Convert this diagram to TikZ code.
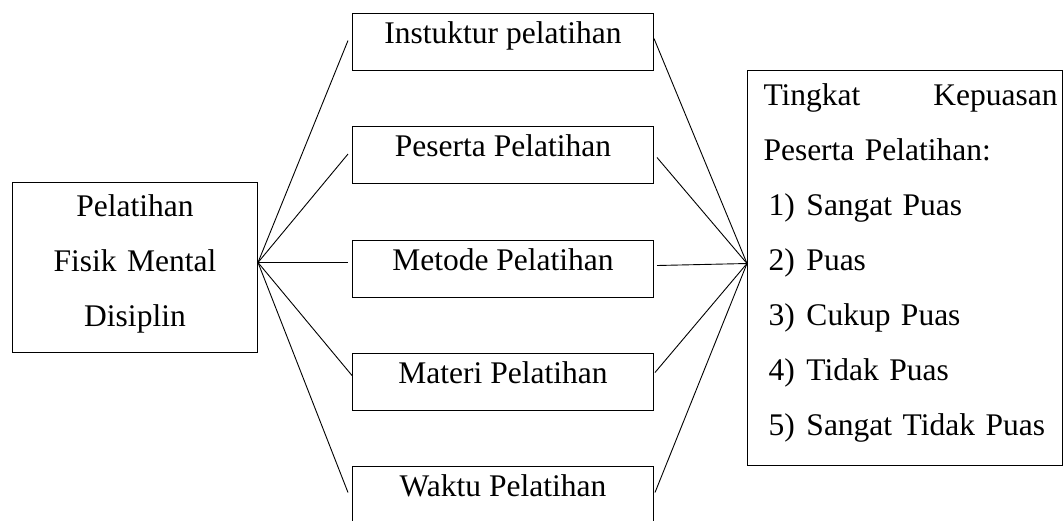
\documentclass[tikz,border=0pt]{standalone}
\usepackage{fontspec}
\setmainfont{Liberation Serif}
\begin{document}
\begin{tikzpicture}[x=1pt,y=-1pt,
  txt/.style={font=\fontsize{31.5}{55}\selectfont},
  box/.style={draw, line width=1pt, inner sep=0pt, txt},
  mbox/.style={box, anchor=north west, minimum width=301pt, text height=30pt, text depth=27pt},
  conn/.style={line width=0.9pt}]
\useasboundingbox (0,0) rectangle (1063,520);
% left box
\node[box, anchor=north west, text width=245pt, align=center] (lb) at (12,182)
  {\rule{0pt}{34pt}Pelatihan\\Fisik Mental\\Disiplin\rule[-26pt]{0pt}{0pt}};
% middle boxes
\node[mbox] (m1) at (352,13)  {Instuktur pelatihan};
\node[mbox] (m2) at (352,126) {Peserta Pelatihan};
\node[mbox] (m3) at (352,239.5) {Metode Pelatihan};
\node[mbox] (m4) at (352,353) {Materi Pelatihan};
\node[mbox] (m5) at (352,466) {Waktu Pelatihan};
% right box
\node[box, anchor=north west, text width=315pt, align=left] (rb) at (747,70)
  {\rule{0pt}{35pt}\hspace*{16pt}\makebox[294pt][l]{Tingkat\hfill Kepuasan}\\
   \hspace*{16pt}Peserta Pelatihan:\\
   \hspace*{21pt}\makebox[38pt][l]{1)}Sangat Puas\\
   \hspace*{21pt}\makebox[38pt][l]{2)}Puas\\
   \hspace*{21pt}\makebox[38pt][l]{3)}Cukup Puas\\
   \hspace*{21pt}\makebox[38pt][l]{4)}Tidak Puas\\
   \hspace*{21pt}\makebox[38pt][l]{5)}Sangat Tidak Puas\rule[-30pt]{0pt}{0pt}};
% connectors left
\draw[conn] ([yshift=5pt]lb.east) -- ([xshift=-4pt,yshift=1.5pt]m1.west);
\draw[conn] ([yshift=5pt]lb.east) -- ([xshift=-4pt,yshift=1pt]m2.west);
\draw[conn] ([yshift=5pt]lb.east) -- ([xshift=-4pt,yshift=6pt]m3.west);
\draw[conn] ([yshift=5pt]lb.east) -- ([yshift=6.5pt]m4.west);
\draw[conn] ([yshift=5pt]lb.east) -- ([xshift=-4pt,yshift=2.5pt]m5.west);
% connectors right
\draw[conn] ([yshift=3.5pt]m1.east) -- ([yshift=4.5pt]rb.west);
\draw[conn] ([xshift=3pt,yshift=-2.5pt]m2.east) -- ([yshift=4.5pt]rb.west);
\draw[conn] ([xshift=3pt,yshift=3pt]m3.east) -- ([yshift=4.5pt]rb.west);
\draw[conn] ([xshift=1pt,yshift=9.5pt]m4.east) -- ([yshift=4.5pt]rb.west);
\draw[conn] ([xshift=1pt,yshift=2.5pt]m5.east) -- ([yshift=4.5pt]rb.west);
\end{tikzpicture}
\end{document}
